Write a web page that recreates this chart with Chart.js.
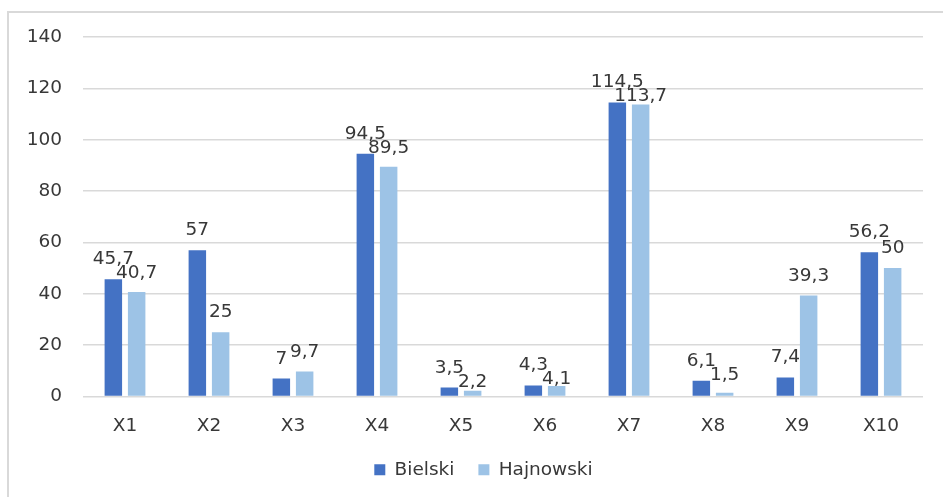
<!DOCTYPE html>
<html>
<head>
<meta charset="utf-8">
<title>Bielski / Hajnowski</title>
<script src="https://cdn.jsdelivr.net/npm/chart.js@4.4.1/dist/chart.umd.min.js"></script>
<style>
  html, body { margin: 0; padding: 0; background: #fff; overflow: hidden; }
  .frame {
    position: absolute; left: 7px; top: 11px;
    width: 1000px; height: 1000px;
    border: 2px solid #d9d9d9;
  }
  #chart { position: absolute; left: 0; top: 0; }
</style>
</head>
<body>
<div class="frame"></div>
<canvas id="chart" width="943" height="497"></canvas>
<script>
// categories and values
const categories = ['X1', 'X2', 'X3', 'X4', 'X5', 'X6', 'X7', 'X8', 'X9', 'X10'];
const bielski = [45.7, 57, 7, 94.5, 3.5, 4.3, 114.5, 6.1, 7.4, 56.2];
const hajnowski = [40.7, 25, 9.7, 89.5, 2.2, 4.1, 113.7, 1.5, 39.3, 50];
const yTicks = [0, 20, 40, 60, 80, 100, 120, 140];

const textColor = '#383838';
const font = { family: 'DejaVu Sans', size: 18.5 };

const fmt = v => String(v).replace('.', ',');

// value labels above each bar, second series pushed down when two labels collide
const barLabels = {
  id: 'barLabels',
  afterDatasetsDraw(chart) {
    const ctx = chart.ctx;
    ctx.save();
    ctx.font = `${font.size}px ${font.family}`;
    ctx.fillStyle = textColor;
    ctx.textAlign = 'center';
    ctx.textBaseline = 'alphabetic';
    const gap = 15, textH = 14;
    const m0 = chart.getDatasetMeta(0), m1 = chart.getDatasetMeta(1);
    categories.forEach((c, i) => {
      const a = m0.data[i], b = m1.data[i];
      const ta = fmt(bielski[i]), tb = fmt(hajnowski[i]);
      const wa = ctx.measureText(ta).width, wb = ctx.measureText(tb).width;
      const ya = a.y - gap;
      let yb = b.y - gap;
      const overlapX = (wa + wb) / 2 > (b.x - a.x);
      if (overlapX && yb >= ya - textH && yb - ya < textH) yb = ya + textH;
      ctx.fillText(ta, a.x, ya);
      ctx.fillText(tb, b.x, yb);
    });
    ctx.restore();
  }
};

// the frame runs past the right edge, so centre the legend a bit further right
const legendShift = {
  id: 'legendShift',
  afterLayout(chart) {
    chart.legend.left += 22;
    chart.legend.right += 22;
  }
};

new Chart(document.getElementById('chart'), {
  type: 'bar',
  data: {
    labels: categories,
    datasets: [
      { label: 'Bielski', data: bielski, backgroundColor: '#4472C4' },
      { label: 'Hajnowski', data: hajnowski, backgroundColor: '#9DC3E6' }
    ]
  },
  options: {
    responsive: false,
    animation: false,
    categoryPercentage: 0.555,
    barPercentage: 0.75,
    layout: { padding: { top: 37, right: 20, bottom: 8, left: 0 } },
    plugins: {
      legend: {
        position: 'bottom',
        labels: {
          boxWidth: 11,
          boxHeight: 11,
          padding: 24,
          color: textColor,
          font: font
        }
      },
      tooltip: { enabled: false }
    },
    scales: {
      x: {
        grid: { display: false, drawTicks: false },
        border: { display: false },
        ticks: { color: textColor, font: font, padding: 19 },
        afterFit: s => { s.height = 40; }
      },
      y: {
        min: 0,
        max: 140,
        afterBuildTicks: s => { s.ticks = yTicks.map(v => ({ value: v })); },
        grid: { color: '#d9d9d9', lineWidth: 1.5, drawTicks: false },
        border: { display: false },
        ticks: { color: textColor, font: font, padding: 21 },
        afterFit: s => { s.width = 83; }
      }
    }
  },
  plugins: [barLabels, legendShift]
});
</script>
</body>
</html>
